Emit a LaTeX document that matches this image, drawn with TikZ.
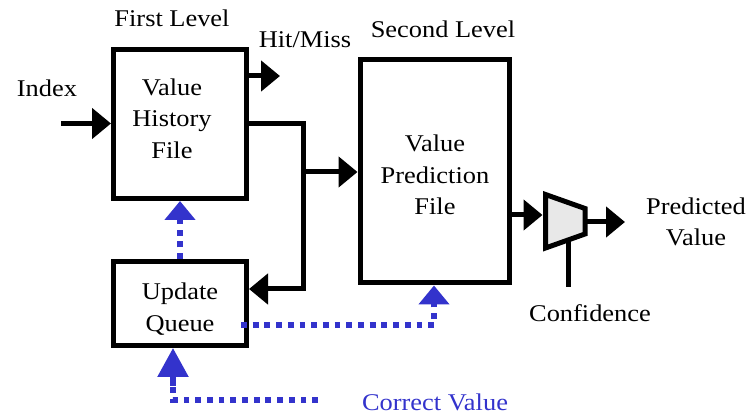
\documentclass[tikz,border=0pt]{standalone}
\usepackage{fontspec}
\setmainfont{Liberation Serif}[FakeStretch=1.1]
\usetikzlibrary{arrows.meta}
\definecolor{upd}{RGB}{51,51,204}
\definecolor{muxfill}{RGB}{232,232,232}
\tikzset{
  txt/.style={font=\fontsize{24}{31.5}\selectfont, inner sep=0pt, align=center},
  blk/.style={draw, line width=5pt, minimum width=#1, inner sep=0pt},
  wire/.style={line width=5pt, -{Triangle[length=19pt,width=30pt]}},
  plain/.style={line width=5pt},
  upath/.style={upd, line width=5.5pt, dash pattern=on 5.8pt off 5.9pt},
  uarrow/.style={upath, -{Triangle[length=19pt,width=30pt]}},
}
\begin{document}
\begin{tikzpicture}[x=1pt,y=-1pt]
\useasboundingbox (0,0) rectangle (748,414);

% storage blocks
\node[blk=133pt, minimum height=149pt] (vhf) at (180,124) {};
\node[blk=133pt, minimum height=84pt]  (uq)  at (180,303.5) {};
\node[blk=149.5pt, minimum height=223pt] (vpf) at (434.75,171.5) {};

% block captions
\node[txt, anchor=base] (lvl1) at (172,27) {First Level};
\node[txt, anchor=base] (lvl2) at (443,38) {Second Level};
\node[txt, anchor=base] (hit)  at (305,48) {Hit/Miss};
\node[txt, anchor=base] (idxl) at (47,97) {Index};
\node[txt] (vhft) at (172,118.5) {Value\\History\\File};
\node[txt] (vpft) at (435,175) {Value\\Prediction\\File};
\node[txt] (uqt)  at (180,309) {Update\\Queue};
\node[txt] (pvt)  at (696,222) {Predicted\\Value};
\node[txt, anchor=base] (conf) at (590,322) {Confidence};
\node[txt, anchor=base, text=upd] (cval) at (435,410) {Correct Value};

% selector (mux)
\coordinate (m1) at (545.5,194.5);
\coordinate (m2) at (585,208.5);
\coordinate (m3) at (585,234);
\coordinate (m4) at (545.5,248);
\draw[plain, fill=muxfill, line join=miter] (m1) -- (m2) -- (m3) -- (m4) -- cycle;

% index input and hit/miss output
\coordinate (idx) at (61,123.5);
\draw[wire] (idx) -- (vhf.west |- idx);
\coordinate (hm) at (280,76);
\draw[wire] (vhf.east |- hm) -- (hm);

% history output feeds both prediction file and update queue
\coordinate (jn) at (303.5,172);
\coordinate (hout) at (246.5,123.5);
\draw[plain, line join=miter] (vhf.east |- hout) -- (jn |- hout) -- (jn);
\draw[wire] (jn) -- (vpf.west |- jn);
\coordinate (uqin) at (303.5,289);
\draw[wire] (jn) -- (uqin) -- (uq.east |- uqin);

% prediction path through the selector
\coordinate (pin) at (545.5,215);
\draw[wire] (vpf.east |- pin) -- ([xshift=-3pt]pin);
\coordinate (pout) at (625,222);
\draw[wire] (m2 |- pout) -- (pout);
\coordinate (cf) at (568.5,287);
\draw[plain] (cf |- 0,239.5) -- (cf);

% update paths
\draw[uarrow] (uq.north) -- (vhf.south);
\coordinate (u1) at (241,325);
\coordinate (u2) at (434,325);
\draw[upath] (u1) -- (u2) -- (434,306);
\draw[uarrow, dash pattern=] (434,306) -- (vpf.south -| u2);
\coordinate (cv) at (318,400);
\coordinate (cvc) at (173,400);
\draw[upath] (cv) -- (cvc) -- (173,386);
\draw[upd, line width=5.5pt, -{Triangle[length=29pt,width=30pt]}] (173,386) -- (uq.south -| cvc);
\end{tikzpicture}
\end{document}
